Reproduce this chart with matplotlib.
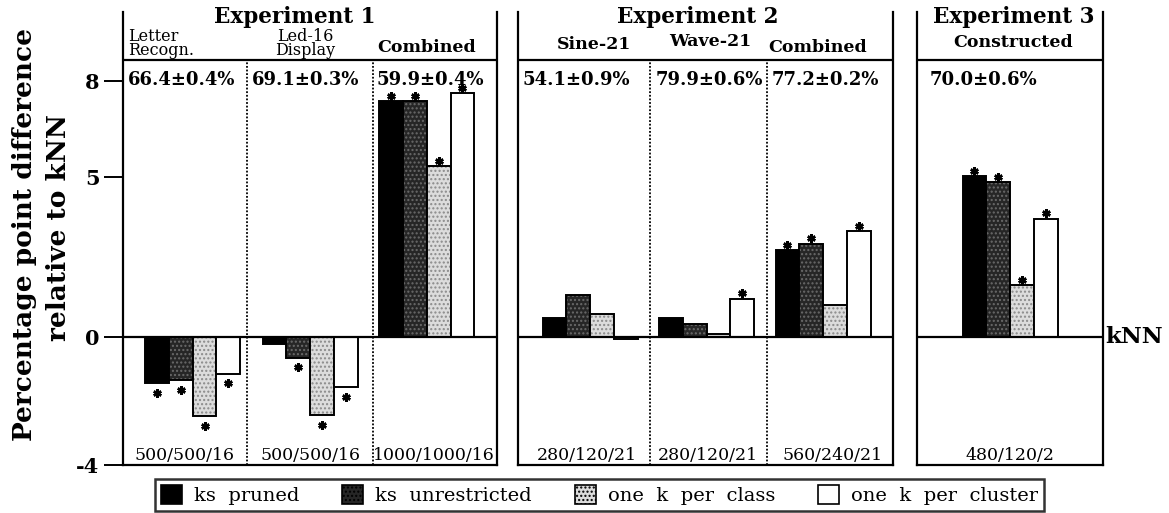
import matplotlib
matplotlib.use("Agg")
import matplotlib.pyplot as plt
from matplotlib.patches import Patch

plt.rcParams['font.family'] = ['DejaVu Serif']
plt.rcParams['hatch.linewidth'] = 1.0

# Datasets grouped by experiment
experiments = ["Experiment 1", "Experiment 2", "Experiment 3"]
datasets = [["Letter\nRecogn.", "Led-16\nDisplay", "Combined"],
            ["Sine-21", "Wave-21", "Combined"],
            ["Constructed"]]
knn_accuracy = [["66.4±0.4%", "69.1±0.3%", "59.9±0.4%"],
                ["54.1±0.9%", "79.9±0.6%", "77.2±0.2%"],
                ["70.0±0.6%"]]
set_sizes = [["500/500/16", "500/500/16", "1000/1000/16"],
             ["280/120/21", "280/120/21", "560/240/21"],
             ["480/120/2"]]

# Percentage point difference relative to kNN, one list per method
series_names = ["ks  pruned", "ks  unrestricted", "one  k  per  class", "one  k  per  cluster"]
ks_pruned = [[-1.45, -0.22, 7.37], [0.60, 0.60, 2.72], [5.03]]
ks_unrestricted = [[-1.35, -0.65, 7.37], [1.31, 0.40, 2.92], [4.84]]
one_k_per_class = [[-2.47, -2.44, 5.34], [0.72, 0.10, 1.00], [1.62]]
one_k_per_cluster = [[-1.15, -1.56, 7.62], [-0.05, 1.20, 3.30], [3.70]]

# Significant differences (marked with an asterisk)
sig_pruned = [[1, 0, 1], [0, 0, 1], [1]]
sig_unrestricted = [[1, 1, 1], [0, 0, 1], [1]]
sig_class = [[1, 1, 1], [0, 0, 0], [1]]
sig_cluster = [[1, 1, 1], [0, 1, 1], [1]]

values = [ks_pruned, ks_unrestricted, one_k_per_class, one_k_per_cluster]
signif = [sig_pruned, sig_unrestricted, sig_class, sig_cluster]

# bar styles: face, hatch, hatch colour
styles = [("black", None, "black"),
          ("#262626", "....", "#6a6a6a"),
          ("#dcdcdc", "....", "#8a8a8a"),
          ("white", None, "black")]

# layout (pixel geometry of the panels)
W, H = 1169, 513
panel_x = [(123, 497), (518, 893), (917, 1103)]
sub_w = 125.0
group_pos = [[0.557, 1.496, 2.43], [0.576, 1.508, 2.44], [0.744]]
dividers = [[0.994, 2.0], [1.056, 1.992], []]
acc_x = [[0.04, 1.03, 2.03], [0.04, 1.10, 2.03], [0.1]]
size_x = [[0.49, 1.5, 2.49], [0.55, 1.52, 2.52], [0.744]]
title_x = [1.376, 1.44, 0.776]
bw = 0.19
y_top, y_bot = 12, 465
ymin = -4
ymax = ymin + (y_bot - y_top) / 32.0
header_y = 8.65

fig = plt.figure(figsize=(W / 100, H / 100), dpi=100)

for p, (x0, x1) in enumerate(panel_x):
    ax = fig.add_axes([x0 / W, (H - y_bot) / H, (x1 - x0) / W, (y_bot - y_top) / H])
    ax.set_xlim(0, (x1 - x0) / sub_w)
    ax.set_ylim(ymin, ymax)
    ax.spines['top'].set_visible(False)
    for s in ['left', 'right', 'bottom']:
        ax.spines[s].set_linewidth(1.6)
    ax.set_xticks([])
    if p == 0:
        ax.set_yticks([8, 5, 0, -4])
        ax.set_yticklabels(["8", "5", "0", "-4"], fontsize=15, fontweight='bold')
        ax.tick_params(axis='y', length=14, width=1.4, pad=3)
    else:
        ax.set_yticks([])

    ax.axhline(0, color='black', lw=1.6)
    ax.axhline(header_y, color='black', lw=1.6)
    for d in dividers[p]:
        ax.plot([d, d], [ymin, header_y], color='black', lw=1.3, ls=(0, (1, 1)))

    for g, c in enumerate(group_pos[p]):
        for i in range(4):
            v = values[i][p][g]
            xc = c + (i - 1.5) * bw
            face, hatch, hcol = styles[i]
            ax.bar(xc, v, width=bw, color=face, hatch=hatch, edgecolor=hcol, linewidth=0)
            ax.bar(xc, v, width=bw, color='none', edgecolor='black', linewidth=1.4)
            if signif[i][p][g]:
                sy = v + 0.17 if v >= 0 else v - 0.3
                ax.plot(xc, sy, marker=(6, 2, 0), ms=6, mew=1.8, color='black')
        # labels for each dataset
        ax.text(acc_x[p][g], 8.03, knn_accuracy[p][g], fontsize=13, fontweight='bold',
                ha='left', va='center')
        ax.text(size_x[p][g], -3.69, set_sizes[p][g], fontsize=12.5,
                ha='center', va='center')

    ax.text(title_x[p], 10.0, experiments[p], fontsize=15.5, fontweight='bold',
            ha='center', va='center')

# dataset names above the header line
ax1, ax2, ax3 = fig.axes
ax1.text(0.04, 8.68, datasets[0][0], fontsize=11.5, ha='left', va='bottom', linespacing=0.78)
ax1.text(1.46, 8.68, datasets[0][1], fontsize=11.5, ha='center', va='bottom', linespacing=0.78)
ax1.text(2.43, 9.05, datasets[0][2], fontsize=12.5, fontweight='bold', ha='center', va='center')
ax2.text(0.61, 9.15, datasets[1][0], fontsize=12.5, fontweight='bold', ha='center', va='center')
ax2.text(1.54, 9.25, datasets[1][1], fontsize=12.5, fontweight='bold', ha='center', va='center')
ax2.text(2.4, 9.05, datasets[1][2], fontsize=12.5, fontweight='bold', ha='center', va='center')
ax3.text(0.77, 9.2, datasets[2][0], fontsize=12.5, fontweight='bold', ha='center', va='center')

ax3.text(1.505, 0, "kNN", fontsize=16.5, fontweight='bold', ha='left', va='center',
         transform=ax3.transData, clip_on=False)

fig.text(25 / W, 1 - 235 / H, "Percentage point difference", rotation=90,
         fontsize=19, fontweight='bold', ha='center', va='center')
fig.text(58 / W, 1 - 228 / H, "relative to kNN", rotation=90,
         fontsize=19, fontweight='bold', ha='center', va='center')

handles = [Patch(facecolor=f, hatch=h, edgecolor='black', linewidth=1.2) for f, h, _ in styles]
leg = fig.legend(handles, series_names, ncol=4, loc='upper left',
                 bbox_to_anchor=(155 / W, 1 - 479 / H), frameon=True, fancybox=False,
                 edgecolor='black', fontsize=14, handlelength=1.1, handleheight=1.1,
                 columnspacing=2.2, handletextpad=0.6, borderpad=0.3, borderaxespad=0)
leg.get_frame().set_linewidth(1.8)

fig.savefig("out.png", dpi=100)
